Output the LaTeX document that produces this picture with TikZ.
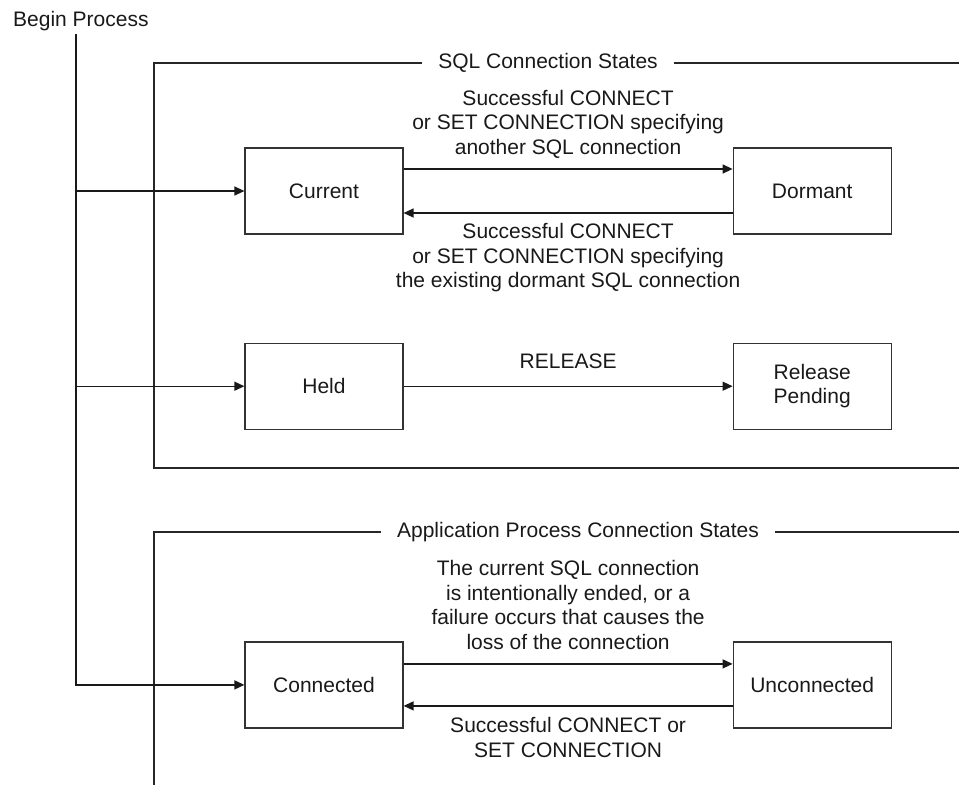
\documentclass[tikz,border=0pt]{standalone}
\usepackage{fontspec}
\setmainfont{Liberation Sans}
\usetikzlibrary{arrows.meta,positioning}

\begin{document}
\begin{tikzpicture}[
    x=1pt, y=1pt,
    every node/.style={font=\fontsize{21}{24.5}\selectfont, text=black!90},
    stbox/.style={draw=black!80, line width=1.2pt, minimum width=158pt, minimum height=86pt, align=center, inner sep=0pt},
    trlabel/.style={align=center, inner sep=0pt},
    frlabel/.style={inner xsep=16pt, inner ysep=0pt},
    frline/.style={line width=1.1pt, draw=black!85},
    arrow/.style={-{Triangle[length=10pt, width=9pt]}, line width=1.3pt, draw=black!90}
]
\useasboundingbox (0,0) rectangle (959,-788);

\node[anchor=base west, inner sep=0pt] (begin) at (13,-26) {Begin Process};
\coordinate (start) at (76,-34);

% SQL connection states
\node[frlabel] (sqltitle) at (548,-63) {SQL Connection States};
\draw[frline] (sqltitle.west) -- (154,-63) -- (154,-468) -- (959,-468);
\draw[frline] (sqltitle.east) -- (959,-63);

\node[stbox] (current) at (324,-191) {Current};
\node[stbox, right=329pt of current] (dormant) {Dormant};
\node[stbox, below=108pt of current] (held) {Held};
\node[stbox, right=329pt of held] (pending) {Release\\Pending};

\draw[arrow] ([yshift=22pt]current.east) -- node[trlabel, above=10pt] {Successful CONNECT\\or SET CONNECTION specifying\\another SQL connection} ([yshift=22pt]dormant.west);
\draw[arrow] ([yshift=-22pt]dormant.west) -- node[trlabel, below=10pt] {Successful CONNECT\\or SET CONNECTION specifying\\the existing dormant SQL connection} ([yshift=-22pt]current.east);
\draw[arrow] (held) -- node[trlabel, above=17pt] {RELEASE} (pending);

% application process connection states
\node[frlabel] (apptitle) at (578,-532) {Application Process Connection States};
\draw[frline] (apptitle.west) -- (154,-532) -- (154,-785);
\draw[frline] (apptitle.east) -- (959,-532);

\node[stbox, below=211.5pt of held] (connected) {Connected};
\node[stbox, right=329pt of connected] (unconnected) {Unconnected};

\draw[arrow] ([yshift=21pt]connected.east) -- node[trlabel, above=14pt] {The current SQL connection\\is intentionally ended, or a\\failure occurs that causes the\\loss of the connection} ([yshift=21pt]unconnected.west);
\draw[arrow] ([yshift=-21pt]unconnected.west) -- node[trlabel, below=11pt] {Successful CONNECT or\\SET CONNECTION} ([yshift=-21pt]connected.east);

% begin process
\draw[arrow] (start |- current) -- (current);
\draw[arrow] (start |- held) -- (held);
\draw[arrow] (start) |- (connected);
\end{tikzpicture}
\end{document}
